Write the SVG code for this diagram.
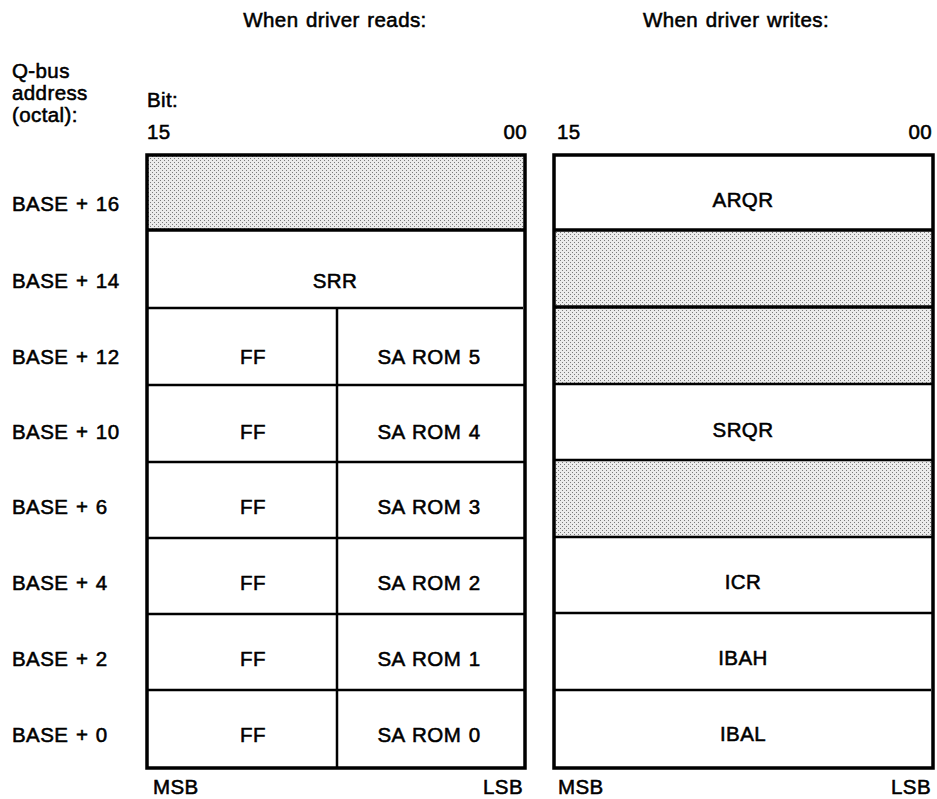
<svg xmlns="http://www.w3.org/2000/svg" width="937" height="799" viewBox="0 0 937 799">
  <defs>
    <!-- fine dot screen used for reserved (unused) registers -->
    <pattern id="dots" width="4" height="4" patternUnits="userSpaceOnUse">
      <rect width="4" height="4" fill="#ebebeb"/>
      <rect x="0" y="0" width="1" height="1" fill="#7a7a7a"/>
      <rect x="2" y="2" width="1" height="1" fill="#7a7a7a"/>
    </pattern>
  </defs>
  <style>
    text { font-family: "Liberation Sans", Arial, sans-serif; font-size: 20.5px; letter-spacing: 0.4px; word-spacing: 1.5px; fill: #000; stroke: #000; stroke-width: 0.55px; }
    .c { text-anchor: middle; }
    .r { text-anchor: end; }
    .frame { fill: none; stroke: #000; stroke-width: 3.5; }
    .rule { stroke: #000; stroke-width: 2.5; }
    .thick { stroke: #000; stroke-width: 3.5; }
    .shade { fill: url(#dots); }
  </style>
  <rect width="937" height="799" fill="#fff"/>

  <!-- headings -->
  <g id="headings">
    <text class="c" x="335" y="27">When driver reads:</text>
    <text class="c" x="736" y="27">When driver writes:</text>
    <text x="12" y="78">Q-bus</text>
    <text x="12" y="100">address</text>
    <text x="12" y="122">(octal):</text>
    <text x="147" y="107">Bit:</text>
    <text x="147" y="139">15</text>
    <text class="r" x="527" y="139">00</text>
    <text x="557" y="139">15</text>
    <text class="r" x="932" y="139">00</text>
  </g>

  <!-- address column -->
  <g id="addresses">
    <text x="12" y="211">BASE + 16</text>
    <text x="12" y="288">BASE + 14</text>
    <text x="12" y="364">BASE + 12</text>
    <text x="12" y="439">BASE + 10</text>
    <text x="12" y="514">BASE + 6</text>
    <text x="12" y="590">BASE + 4</text>
    <text x="12" y="666">BASE + 2</text>
    <text x="12" y="742">BASE + 0</text>
  </g>

  <!-- read-side register map -->
  <g id="read-map">
    <rect class="shade" x="147" y="155" width="378" height="75"/>
    <g id="r-srr"><text class="c" x="335" y="288">SRR</text></g>
    <g id="r-12"><text class="c" x="253" y="364">FF</text><text class="c" x="429" y="364">SA ROM 5</text></g>
    <g id="r-10"><text class="c" x="253" y="439">FF</text><text class="c" x="429" y="439">SA ROM 4</text></g>
    <g id="r-6"><text class="c" x="253" y="514">FF</text><text class="c" x="429" y="514">SA ROM 3</text></g>
    <g id="r-4"><text class="c" x="253" y="590">FF</text><text class="c" x="429" y="590">SA ROM 2</text></g>
    <g id="r-2"><text class="c" x="253" y="666">FF</text><text class="c" x="429" y="666">SA ROM 1</text></g>
    <g id="r-0"><text class="c" x="253" y="742">FF</text><text class="c" x="429" y="742">SA ROM 0</text></g>
    <line class="thick" x1="147" y1="230" x2="525" y2="230"/>
    <line class="rule" x1="147" y1="308" x2="523" y2="308"/>
    <line class="rule" x1="147" y1="385" x2="525" y2="385"/>
    <line class="rule" x1="147" y1="462" x2="525" y2="462"/>
    <line class="rule" x1="147" y1="538" x2="525" y2="538"/>
    <line class="rule" x1="147" y1="614" x2="525" y2="614"/>
    <line class="rule" x1="147" y1="690" x2="525" y2="690"/>
    <line class="rule" x1="337" y1="308" x2="337" y2="768"/>
    <rect class="frame" x="147" y="155" width="378" height="613"/>
    <text x="153" y="794">MSB</text>
    <text class="r" x="523" y="794">LSB</text>
  </g>

  <!-- write-side register map -->
  <g id="write-map">
    <rect class="shade" x="554" y="230" width="379" height="154"/>
    <rect class="shade" x="554" y="460" width="379" height="77"/>
    <g id="w-arqr"><text class="c" x="743" y="207">ARQR</text></g>
    <g id="w-srqr"><text class="c" x="743" y="437">SRQR</text></g>
    <g id="w-icr"><text class="c" x="743" y="589">ICR</text></g>
    <g id="w-ibah"><text class="c" x="743" y="665">IBAH</text></g>
    <g id="w-ibal"><text class="c" x="743" y="741">IBAL</text></g>
    <line class="thick" x1="554" y1="230" x2="933" y2="230"/>
    <line class="thick" x1="554" y1="307" x2="933" y2="307"/>
    <line class="rule" x1="554" y1="384" x2="933" y2="384"/>
    <line class="rule" x1="554" y1="460" x2="933" y2="460"/>
    <line class="rule" x1="554" y1="537" x2="933" y2="537"/>
    <line class="rule" x1="554" y1="613" x2="933" y2="613"/>
    <line class="rule" x1="554" y1="690" x2="931" y2="690"/>
    <rect class="frame" x="554" y="155" width="379" height="613"/>
    <text x="558" y="794">MSB</text>
    <text class="r" x="931" y="794">LSB</text>
  </g>
</svg>
